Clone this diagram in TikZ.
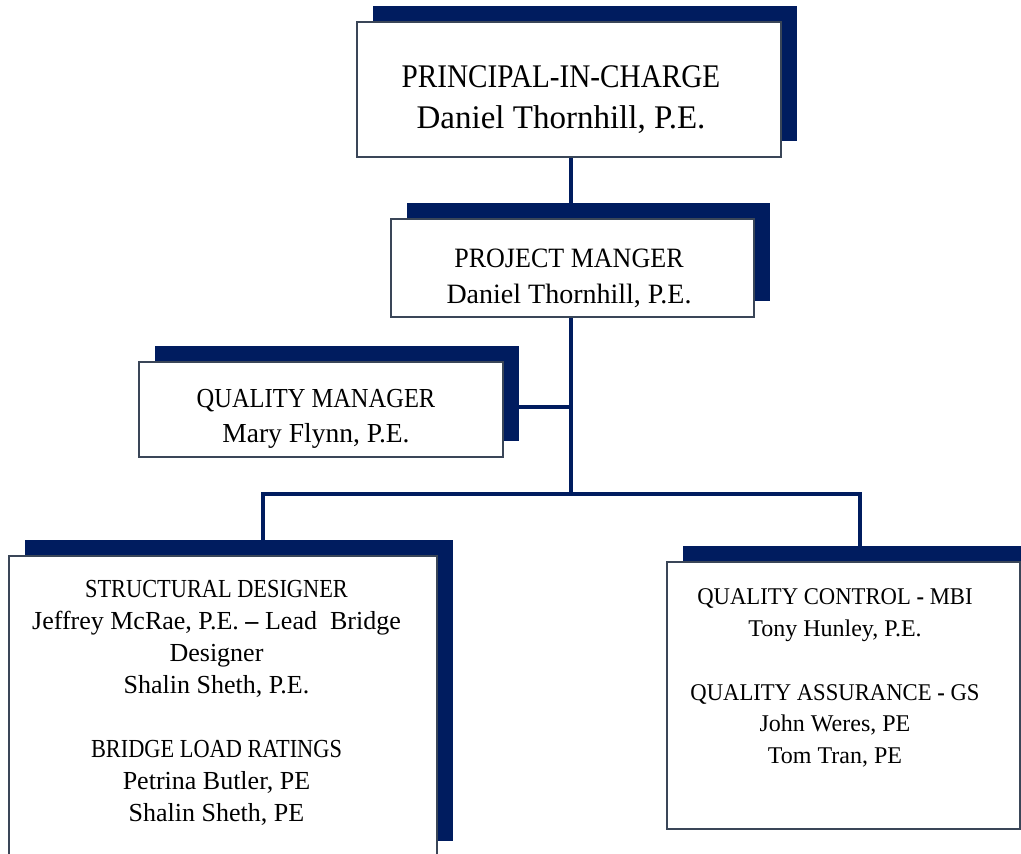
\documentclass[tikz,border=0pt]{standalone}
\usepackage{fontspec}
\setmainfont{Liberation Serif}
\usepackage{graphicx}
\usetikzlibrary{shadows,backgrounds}
\definecolor{navy}{HTML}{001C5F}
\definecolor{boxline}{HTML}{3A4658}
\newcommand\hsc[2]{\scalebox{#1}[1]{#2}}
\begin{document}
\begin{tikzpicture}[x=1pt,y=-1pt,
  orgbox/.style={rectangle, draw=boxline, line width=1.3pt, fill=white, inner sep=0pt,
     drop shadow={shadow xshift=16pt, shadow yshift=16pt, fill=navy, opacity=1}},
  conn/.style={draw=navy, line width=4pt, line join=miter},
  txt/.style={align=center, inner sep=0pt, text=black}]
\useasboundingbox (0,0) rectangle (1021,854);
\clip (0,0) rectangle (1021,854);

\node[orgbox, minimum width=424pt, minimum height=135pt] (pic) at (569,89.5) {};
\node[orgbox, minimum width=363pt, minimum height=98pt] (pm) at (572.5,268) {};
\node[orgbox, minimum width=364pt, minimum height=95pt] (qm) at (321,409.5) {};
\node[orgbox, minimum width=428pt, minimum height=301pt] (sd) at (223,706.5) {};
\node[orgbox, minimum width=353pt, minimum height=267pt] (qc) at (843.5,695.5) {};

\node[txt, font=\fontsize{33}{41}\selectfont] (pict) at (561,100)
  {\hsc{0.885}{PRINCIPAL-IN-CHARGE}\\Daniel Thornhill, P.E.};
\node[txt, font=\fontsize{28}{36}\selectfont] (pmt) at (569,278)
  {\hsc{0.93}{PROJECT MANGER}\\Daniel Thornhill, P.E.};
\node[txt, font=\fontsize{27.5}{35}\selectfont] (qmt) at (316,419)
  {\hsc{0.89}{QUALITY MANAGER}\\Mary Flynn, P.E.};
\node[txt, font=\fontsize{26}{32.1}\selectfont] (sdt) at (216.5,703)
  {\hsc{0.86}{STRUCTURAL DESIGNER}\\
   Jeffrey McRae, P.E. \textbf{–} Lead\ \ Bridge\\
   Designer\\
   Shalin Sheth, P.E.\\[32.1pt]
   \hsc{0.86}{BRIDGE LOAD RATINGS}\\
   Petrina Butler, PE\\
   Shalin Sheth, PE};
\node[txt, font=\fontsize{24}{31.8}\selectfont] (qct) at (835,678)
  {\hsc{0.945}{QUALITY CONTROL \textbf{-} MBI}\\
   Tony Hunley, P.E.\\[31.8pt]
   \hsc{0.945}{QUALITY ASSURANCE \textbf{-} GS}\\
   John Weres, PE\\
   Tom Tran, PE};

\coordinate (j1) at (570.5,202);
\coordinate (qmj) at (571,407);
\coordinate (busM) at (571,494);
\coordinate (busL) at (263,494);
\coordinate (busR) at (860,494);
\begin{scope}[on background layer]
  \draw[conn] (pic.south -| j1) -- (pm.north -| j1);
  \draw[conn] (pm.south -| busM) -- (busM);
  \draw[conn] (qm.east |- qmj) -- (qmj);
  \draw[conn] (sd.north -| busL) -- (busL) -- (busR) -- (qc.north -| busR);
\end{scope}
\end{tikzpicture}
\end{document}
